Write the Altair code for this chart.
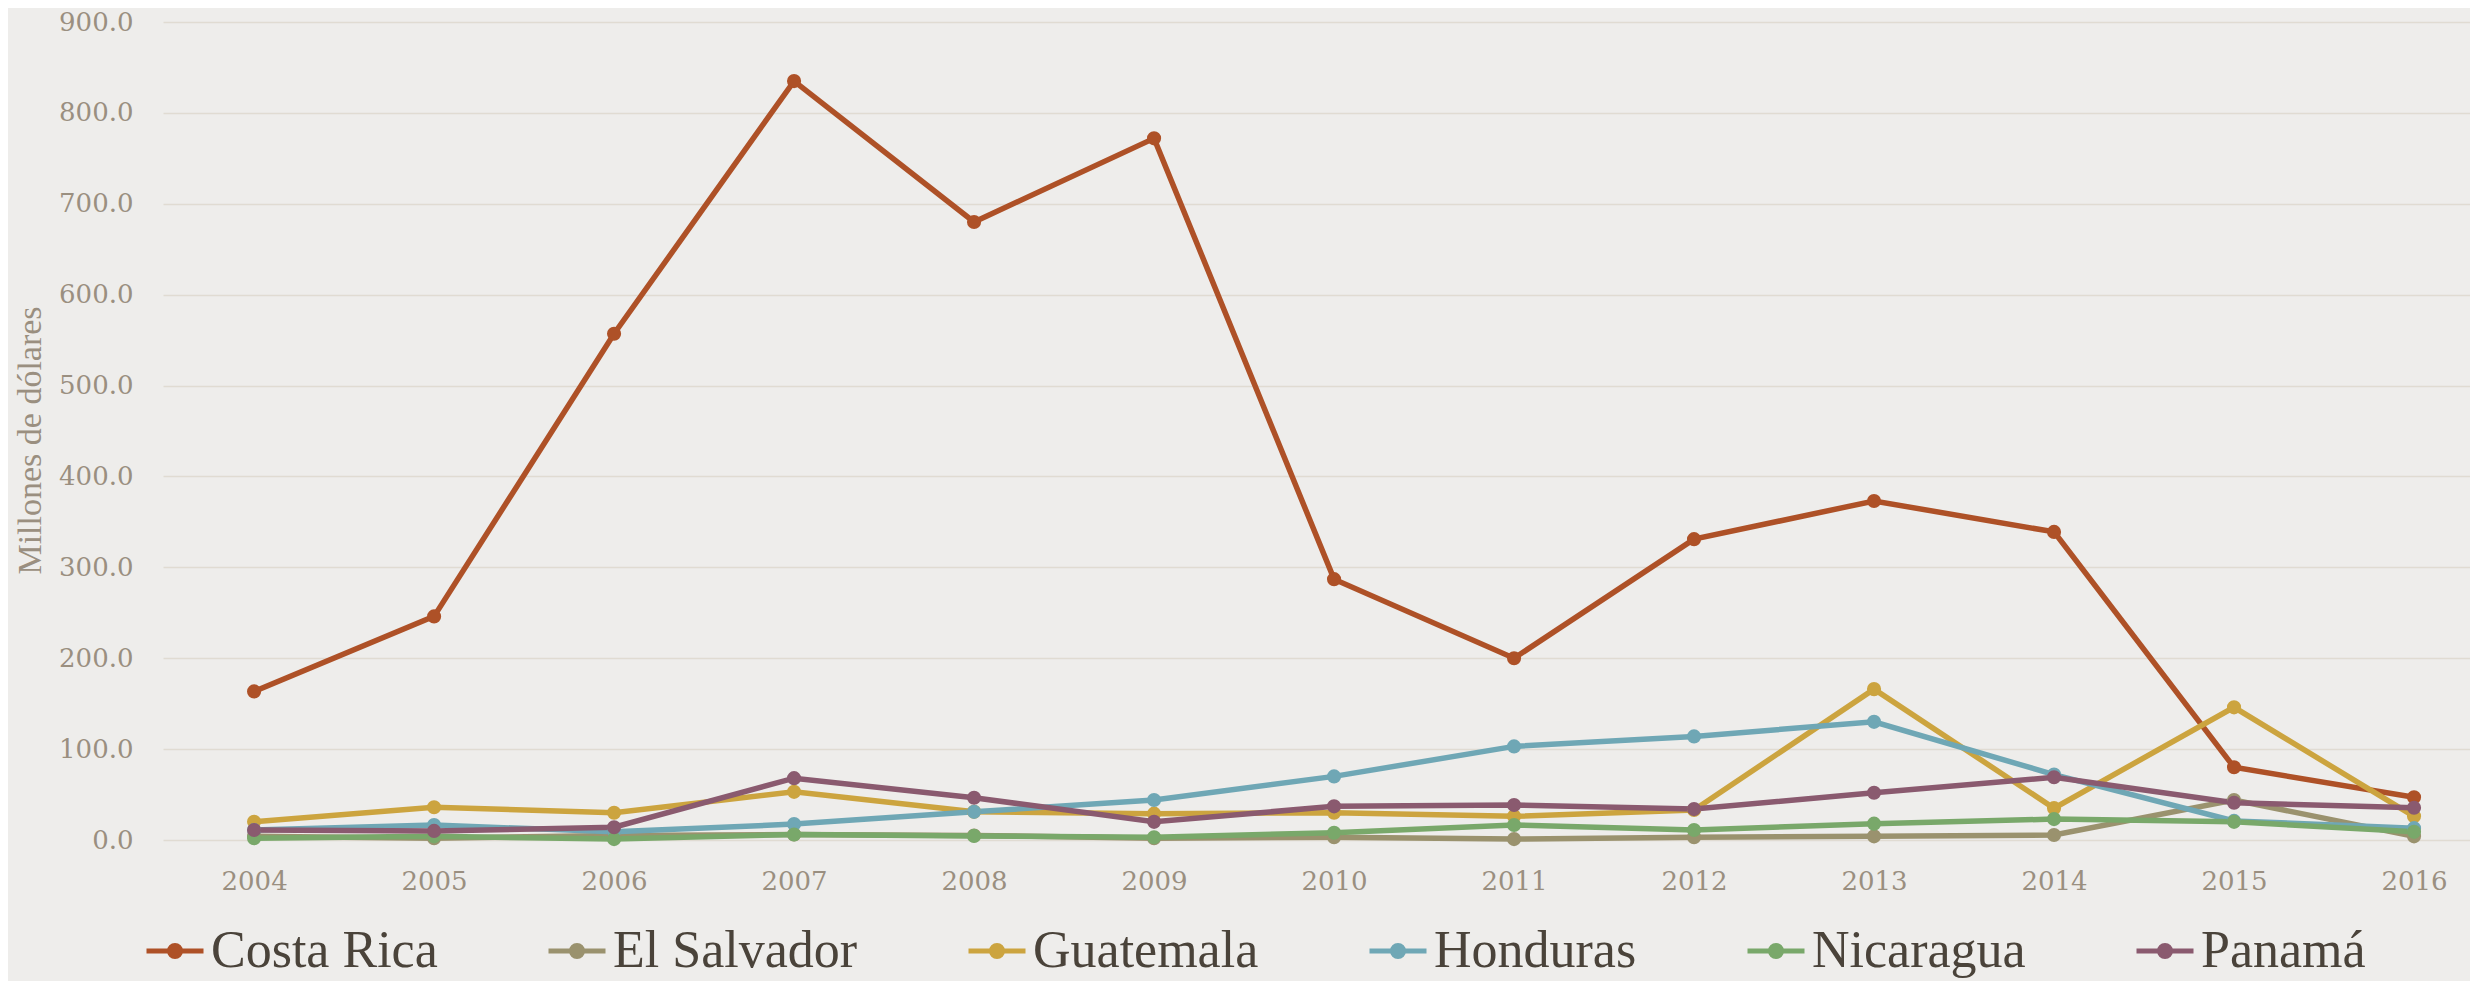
import altair as alt
import pandas as pd

years = list(range(2004, 2017))
countries = ["Costa Rica", "El Salvador", "Guatemala", "Honduras", "Nicaragua", "Panamá"]
colors = ["#AE5127", "#9A926E", "#CCA43F", "#6FA7B5", "#79A86A", "#8A5A6F"]

costa_rica = [163.5, 246, 557, 835, 680, 772, 287, 200, 331, 373, 339, 80, 47]
el_salvador = [4, 2, 5, 6, 5, 2, 3, 1, 3, 4, 5.5, 44, 4]
guatemala = [20, 36, 30, 53, 31, 29, 30, 26, 33, 166, 35, 146, 26]
honduras = [11, 16.5, 9, 17.5, 31, 44, 70, 103, 114, 130, 72, 21, 13]
nicaragua = [2, 4, 1, 6, 4.5, 3, 8, 16.5, 11, 18, 23, 20, 9]
panama = [11, 10, 14, 68, 46.5, 20, 37, 38.5, 34, 52, 69, 41, 35.5]

series = [costa_rica, el_salvador, guatemala, honduras, nicaragua, panama]

rows = []
for c, vals in zip(countries, series):
    for y, v in zip(years, vals):
        rows.append({"country": c, "year": y, "value": v})
df = pd.DataFrame(rows)

axis_color = "#9A8F80"
legend_symbol = (
    "M-1,0L1,0"
    "M-0.193,0A0.193,0.193,0,1,0,0.193,0A0.193,0.193,0,1,0,-0.193,0"
    "M-0.07,0A0.07,0.07,0,1,0,0.07,0A0.07,0.07,0,1,0,-0.07,0"
)

chart = alt.Chart(df).mark_line(
    strokeWidth=5.5,
    point=alt.OverlayMarkDef(filled=True, size=200, opacity=1),
).encode(
    x=alt.X(
        "year:Q",
        scale=alt.Scale(domain=[2003.494, 2016.311], nice=False, zero=False),
        axis=alt.Axis(
            values=years, format="d", title=None, grid=False, ticks=False,
            domain=False, labelPadding=28, labelFont="DejaVu Serif",
            labelFontSize=26, labelColor=axis_color, labelFlush=False,
        ),
    ),
    y=alt.Y(
        "value:Q",
        scale=alt.Scale(domain=[0, 900], nice=False),
        axis=alt.Axis(
            values=list(range(0, 1000, 100)), format=".1f",
            title="Millones de dólares", titleFont="Liberation Serif",
            titleFontSize=34, titleFontWeight="normal", titleColor=axis_color,
            titleX=-133, titleY=418, titleAlign="center", titleBaseline="middle",
            titleAngle=270,
            grid=True, gridColor="#E0DBD2", gridWidth=1.5, ticks=False,
            domain=False, labelPadding=30, labelFont="DejaVu Serif",
            labelFontSize=26, labelColor=axis_color, labelFlush=False,
        ),
    ),
    color=alt.Color(
        "country:N",
        scale=alt.Scale(domain=countries, range=colors),
        legend=alt.Legend(
            title=None, orient="none", legendX=-19, legendY=898,
            direction="horizontal", columnPadding=100, padding=0,
            symbolType=legend_symbol, symbolSize=3249, symbolStrokeWidth=5,
            symbolOpacity=1, labelFont="Liberation Serif", labelFontSize=52,
            labelColor="#4A433A", labelOffset=5, labelLimit=0,
        ),
    ),
).properties(
    width=2307,
    height=818,
    padding={"left": 155, "top": 14, "right": 0, "bottom": 141},
    autosize=alt.AutoSizeParams(type="none"),
).configure(
    background="#EEEDEB",
).configure_view(
    stroke=None,
)

chart.save("out.html", embed_options={"renderer": "svg", "actions": False})
